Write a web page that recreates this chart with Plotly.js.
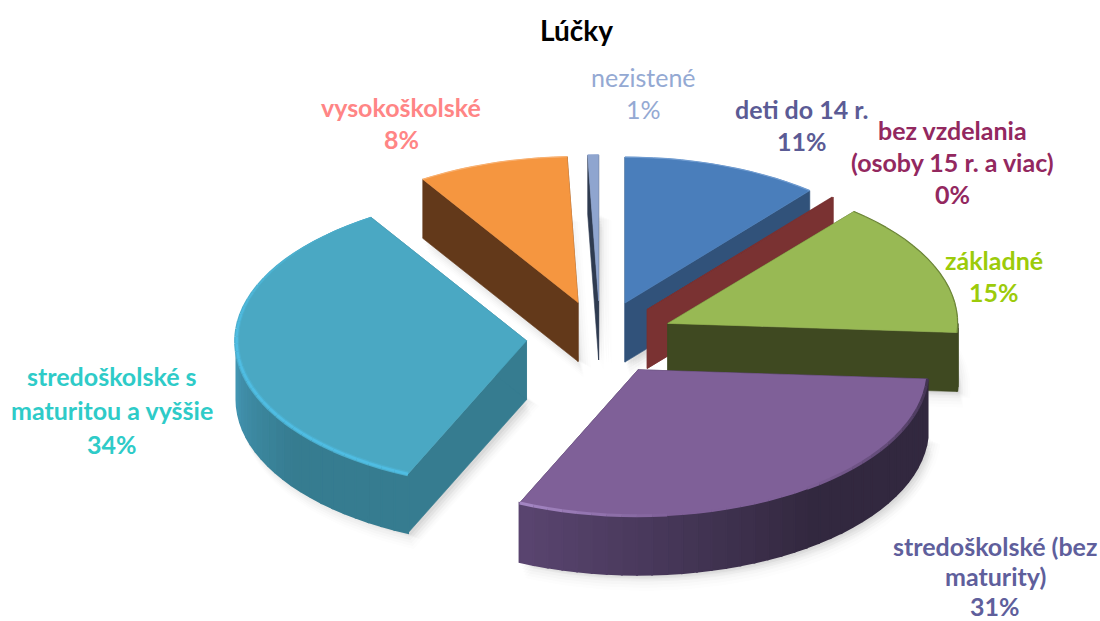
<!DOCTYPE html>
<html><head><meta charset="utf-8">
<script src="https://cdn.plot.ly/plotly-3.0.1.min.js"></script>
<style>html,body{margin:0;padding:0;background:#fff}#c{width:1100px;height:621px}</style>
</head><body><div id="c"></div>
<script>
const categories=["deti do 14 r.","bez vzdelania (osoby 15 r. a viac)","základné","stredoškolské (bez maturity)","stredoškolské s maturitou a vyššie","vysokoškolské","nezistené"];
const values=[11,0.1,14.9,30.7,34.3,8.4,0.6];
const labelLines=[["deti do 14 r."],["bez vzdelania","(osoby 15 r. a viac)"],["základné"],["stredoškolské (bez","maturity)"],["stredoškolské s","maturitou a vyššie"],["vysokoškolské"],["nezistené"]];
const labelColors=["#5b5b95","#93285f","#9ccb0a","#5f5f9c","#2ecbc8","#ff8585","#94a9d3"];
const labelX=[802,952,994,995,112,401,643];
const labelY=[109,130,260,546,376,107,77];
const labelStep=[32,32,32,30,34,32,32];
const topColors=["#4a7ebb","#7a3232","#98b954","#7f6098","#4aa8c3","#f59640","#8fa5cf"];
const wallColors=["#31527a","#7a3232","#3f4921","#32283f","#367c90","#63391a","#2f3b50"];
const rimLight=["#31527a","#7a3232","#3f4921","#5a4570","#4496b3","#63391a","#2f3b50"];
const edgeColors=["#6f9bd0","#7a3232","#6b8438","#a587c4","#4fbde3","#f8b070","#8fa5cf"];
const drawOrder=[6,5,0,1,2,4,3];

const CX=600,CY=338,RX=290,RY=146,DEPTH=59,PULL=0.254;
const rad=d=>d*Math.PI/180;
const total=values.reduce((a,b)=>a+b,0);
let acc=0;
const slices=values.map((v,i)=>{const a0=acc/total*360;acc+=v;const a1=acc/total*360;const m=(a0+a1)/2;
  return {i,a0,a1,ax:CX+PULL*RX*Math.sin(rad(m)),ay:CY-PULL*RY*Math.cos(rad(m))};});
const pt=(s,a)=>[s.ax+RX*Math.sin(rad(a)),s.ay-RY*Math.cos(rad(a))];
function arc(s,a0,a1){const n=Math.max(2,Math.ceil(Math.abs(a1-a0)/2));const o=[];for(let k=0;k<=n;k++)o.push(pt(s,a0+(a1-a0)*k/n));return o;}
const hex=c=>[1,3,5].map(k=>parseInt(c.substr(k,2),16));
const mix=(a,b,t)=>{const A=hex(a),B=hex(b);return 'rgb('+A.map((v,k)=>Math.round(v+(B[k]-v)*t)).join(',')+')';};
const traces=[];
function poly(p,color,lw=0.6,dx=0,dy=0){traces.push({type:'scatter',mode:'lines',x:p.map(q=>q[0]+dx).concat(p[0][0]+dx),y:p.map(q=>q[1]+dy).concat(p[0][1]+dy),fill:'toself',fillcolor:color,line:{width:lw,color:color},hoverinfo:'skip',showlegend:false});}
function stroke(seg,w,c){traces.push({type:'scatter',mode:'lines',x:seg.map(z=>z[0]),y:seg.map(z=>z[1]),line:{width:w,color:c},hoverinfo:'skip',showlegend:false});}
function down(p){return p.map(q=>[q[0],q[1]+DEPTH]);}
function footprint(s){return [[s.ax,s.ay]].concat(arc(s,s.a0,s.a1));}

// soft ground shadow under each slice
[[16,0.012],[13,0.014],[10,0.018],[7,0.022],[4,0.028]].forEach(([o,al])=>{
  slices.forEach(s=>{
    const f=footprint(s).map(q=>[q[0],q[1]+DEPTH]);
    poly(f,'rgba(60,60,60,'+al+')',0,o*0.35,o);
    poly(f,'rgba(60,60,60,'+al+')',0,o*0.8,o*0.4);
  });
});

drawOrder.forEach(i=>{
  const s=slices[i];
  const wall=wallColors[i];
  // radial cut walls
  [s.a0,s.a1].forEach(a=>{const e=pt(s,a);poly([[s.ax,s.ay],e,[e[0],e[1]+DEPTH],[s.ax,s.ay+DEPTH]],wall);});
  // outer rim wall, shaded along the arc
  const r0=Math.max(s.a0,90),r1=Math.min(s.a1,270);
  if(r1>r0){
    const n=Math.ceil((r1-r0)/3);
    for(let k=0;k<n;k++){
      const p=r0+(r1-r0)*k/n,q=r0+(r1-r0)*(k+1)/n;
      const seg=arc(s,p,q);
      const t=Math.min(1,Math.max(0,((p+q)/2-r0-(r1-r0)*0.45)/((r1-r0)*0.55)));
      poly(seg.concat(down(seg).reverse()),mix(wall,rimLight[i],t),2);
    }
  }
  // top face
  if(s.a1-s.a0>0.3) poly(footprint(s),topColors[i]);
  // bevel highlight along the arc
  if(s.a1-s.a0>2){
    const n=Math.ceil((s.a1-s.a0)/3);
    for(let k=0;k<n;k++){
      const p=s.a0+(s.a1-s.a0)*k/n,q=s.a0+(s.a1-s.a0)*(k+1)/n;
      const seg=arc(s,p,q);
      const m=(p+q)/2;
      if(i===4){
        const f=m<270?1:Math.max(0,1-(m-270)/45);
        stroke(seg,1.2+3.8*f,mix(topColors[i],edgeColors[i],0.35*f));
        stroke(seg,1+1.5*f,mix(topColors[i],edgeColors[i],0.25+0.75*f));
      } else if(i===3){
        const t=(m-s.a0)/(s.a1-s.a0);
        if(t<0.45) stroke(seg,3,mix('#2c2238',topColors[i],0.25+t*1.6));
        else if(t>0.72) stroke(seg,3,mix(topColors[i],edgeColors[i],(t-0.72)/0.28));
        else stroke(seg,2,topColors[i]);
      } else stroke(seg,1.2,edgeColors[i]);
    }
  }
});

const annotations=[{x:576,y:30,text:'<b>Lúčky</b>',showarrow:false,font:{family:'Lato, sans-serif',size:28,color:'#000'}}];
categories.forEach((cat,i)=>{
  const lines=labelLines[i].concat(Math.round(values[i])+'%');
  lines.forEach((t,k)=>annotations.push({x:labelX[i],y:labelY[i]+k*labelStep[i],text:i===6?t:'<b>'+t+'</b>',showarrow:false,font:{family:'Lato, sans-serif',size:25,color:labelColors[i]}}));
});
Plotly.newPlot('c',traces,{
  width:1100,height:621,margin:{l:0,r:0,t:0,b:0},paper_bgcolor:'#fff',plot_bgcolor:'#fff',showlegend:false,
  xaxis:{range:[0,1100],visible:false,fixedrange:true},
  yaxis:{range:[621,0],visible:false,fixedrange:true},
  annotations
},{displayModeBar:false,staticPlot:true});
</script></body></html>
